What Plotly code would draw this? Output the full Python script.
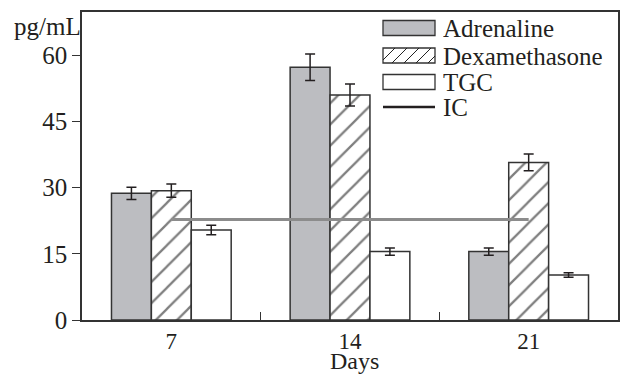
import plotly.graph_objects as go

# Measured concentrations (pg/mL) by day, with error bars
days = ["7", "14", "21"]
adrenaline = [28.7, 57.3, 15.5]
adrenaline_err = [1.4, 3.0, 0.8]
dexamethasone = [29.3, 51.0, 35.7]
dexamethasone_err = [1.5, 2.5, 1.9]
tgc = [20.4, 15.5, 10.2]
tgc_err = [1.1, 0.8, 0.5]
ic_level = 22.8

y_ticks = [0, 15, 30, 45, 60]

FONT = "Liberation Serif"
FS = 25
INK = "#231f20"
EDGE = "#333333"

W, H = 626, 376
L, R, T, B = 82, 8, 12, 56
PW, PH = W - L - R, H - T - B


def px(x):
    return (x - L) / PW


def py(y):
    return (H - B - y) / PH


def err(vals):
    return dict(type="data", array=vals, visible=True, color=INK, thickness=1.5, width=5)


fig = go.Figure()
fig.add_trace(go.Bar(
    name="Adrenaline", x=days, y=adrenaline, error_y=err(adrenaline_err),
    marker=dict(color="#bcbdc1", line=dict(color=EDGE, width=1.5)), showlegend=False,
))
fig.add_trace(go.Bar(
    name="Dexamethasone", x=days, y=dexamethasone, error_y=err(dexamethasone_err),
    marker=dict(color="white", line=dict(color=EDGE, width=1.5),
                pattern=dict(shape="/", fgcolor="#000000", bgcolor="white", size=15, solidity=0.15)),
    showlegend=False,
))
fig.add_trace(go.Bar(
    name="TGC", x=days, y=tgc, error_y=err(tgc_err),
    marker=dict(color="white", line=dict(color=EDGE, width=1.5)), showlegend=False,
))
fig.add_trace(go.Scatter(
    name="IC", x=[days[0], days[-1]], y=[ic_level, ic_level], mode="lines",
    line=dict(color="#8c8c8c", width=3), showlegend=False,
))

# Legend drawn as shapes + text
shapes = []
annotations = []
sx0, sx1 = 383, 435
legend_rows = [
    ("Adrenaline", 28, "fill"),
    ("Dexamethasone", 55.5, "hatch"),
    ("TGC", 82, "open"),
    ("IC", 107, "line"),
]
for label, yc, kind in legend_rows:
    if kind == "line":
        shapes.append(dict(type="line", xref="paper", yref="paper",
                           x0=px(sx0), x1=px(sx1), y0=py(yc), y1=py(yc),
                           line=dict(color=INK, width=2.5)))
    else:
        y0, y1 = yc - 7.5, yc + 7.5
        fill = "#bcbdc1" if kind == "fill" else "white"
        shapes.append(dict(type="rect", xref="paper", yref="paper",
                           x0=px(sx0), x1=px(sx1), y0=py(y1), y1=py(y0),
                           fillcolor=fill, line=dict(color=EDGE, width=1.3)))
        if kind == "hatch":
            step = 12
            h = y1 - y0
            xs = sx0 - h
            while xs < sx1:
                a0, b0 = xs, y1
                a1, b1 = xs + h, y0
                # clip to swatch box
                if a0 < sx0:
                    b0 = y1 - (sx0 - a0)
                    a0 = sx0
                if a1 > sx1:
                    b1 = y0 + (a1 - sx1)
                    a1 = sx1
                if a1 > a0:
                    shapes.append(dict(type="line", xref="paper", yref="paper",
                                       x0=px(a0), x1=px(a1), y0=py(b0), y1=py(b1),
                                       line=dict(color="#222222", width=1)))
                xs += step
    annotations.append(dict(text=label, xref="paper", yref="paper",
                            x=px(441), y=py(yc), xanchor="left", yanchor="middle",
                            height=24, valign="middle",
                            showarrow=False, font=dict(family=FONT, size=FS, color=INK)))

annotations.append(dict(text="pg/mL", xref="paper", yref="paper",
                        x=px(83), y=py(27), xanchor="right", yanchor="middle",
                        showarrow=False, font=dict(family=FONT, size=FS, color=INK)))
annotations.append(dict(text="Days", xref="paper", yref="paper",
                        x=px(354), y=py(376), xanchor="center", yanchor="bottom",
                        showarrow=False, font=dict(family=FONT, size=24, color=INK)))

fig.update_layout(
    width=W, height=H,
    margin=dict(l=L, r=R, t=T, b=B),
    paper_bgcolor="white", plot_bgcolor="white",
    barmode="group", bargap=0.33, bargroupgap=0,
    font=dict(family=FONT, size=FS, color=INK),
    shapes=shapes, annotations=annotations,
    showlegend=False,
    xaxis=dict(
        type="category", range=[-0.5, 2.5], automargin=False,
        showline=True, linecolor=EDGE, linewidth=1.5, mirror=True,
        ticks="inside", tickson="boundaries", ticklen=8, tickcolor=EDGE, tickwidth=1.3,
        showgrid=False, zeroline=False,
        tickfont=dict(family=FONT, size=23, color=INK),
    ),
    yaxis=dict(
        range=[0, 69.8], tickvals=y_ticks, automargin=False,
        showline=True, linecolor=EDGE, linewidth=1.5, mirror=True,
        ticks="outside", ticklen=8, tickcolor=EDGE, tickwidth=1.3,
        showgrid=False, zeroline=False,
        tickfont=dict(family=FONT, size=FS, color=INK),
    ),
)

fig.write_html("out.html")
